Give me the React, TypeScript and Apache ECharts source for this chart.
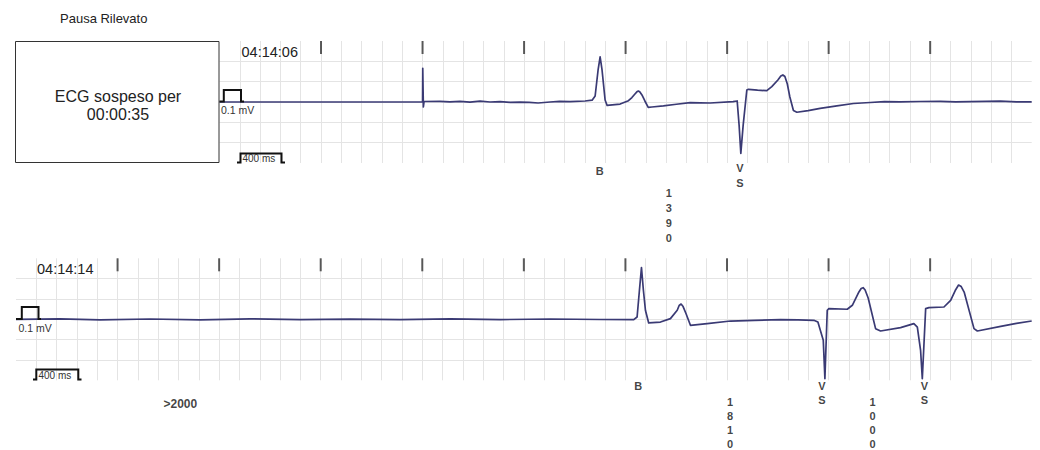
import React, { useEffect, useRef } from 'react';
import * as echarts from 'echarts';

const FONT = '"Liberation Sans", Arial, Helvetica, sans-serif';

// time in seconds, amplitude in mV (0.2 s and 0.2 mV per grid cell)
const TOP_TRACE: [number, number][] = [
  [0, 0], [2.0, 0], [2.002, 0.332], [2.008, -0.049], [2.015, 0.005],
  [2.172, 0.007], [2.27, 0.001], [2.369, 0.006], [2.467, -0.001], [2.567, 0.008],
  [2.664, 0.0], [2.764, 0.004], [2.861, -0.003], [2.961, -0.002], [3.05, -0.004],
  [3.138, -0.01], [3.256, 0], [3.35, 0.006], [3.453, 0.003], [3.601, 0.01], [3.67, 0.018],
  [3.7, 0.059], [3.729, 0.315], [3.749, 0.443], [3.768, 0.315], [3.798, 0.02],
  [3.818, -0.034], [3.946, -0.02], [4.028, 0.013], [4.062, 0.044], [4.092, 0.079],
  [4.111, 0.1], [4.126, 0.108], [4.141, 0.098], [4.161, 0.069], [4.19, 0.01],
  [4.223, -0.052], [4.259, -0.049], [4.372, -0.039], [4.5, -0.022], [4.636, -0.007],
  [4.833, -0.01], [5.059, 0.003], [5.099, 0.01], [5.118, -0.227], [5.135, -0.505],
  [5.158, -0.227], [5.194, 0.118], [5.21, 0.125], [5.3, 0.116], [5.391, 0.111],
  [5.44, 0.151], [5.5, 0.216], [5.529, 0.256], [5.549, 0.266], [5.569, 0.251],
  [5.593, 0.177], [5.618, 0.049], [5.653, -0.084], [5.687, -0.101], [5.798, -0.084],
  [5.916, -0.062], [6.081, -0.039], [6.244, -0.015], [6.409, -0.005], [6.55, 0.003],
  [6.704, 0.002], [6.9, 0.005], [7.099, 0.007], [7.25, 0.002], [7.394, 0.004],
  [7.55, 0.006], [7.69, 0.008], [7.85, 0.001], [8.0, 0.002],
];

const BOTTOM_TRACE: [number, number][] = [
  [0, 0], [0.433, 0.005], [0.828, -0.005], [1.32, 0.003], [1.813, -0.005],
  [2.305, 0.005], [2.798, -0.003], [3.291, 0.002], [3.783, -0.004], [4.276, 0.004],
  [4.768, -0.003], [5.261, 0.003], [5.754, -0.002], [6.082, -0.003], [6.115, 0.023],
  [6.138, 0.286], [6.158, 0.509], [6.177, 0.286], [6.197, 0.089], [6.229, -0.036],
  [6.345, -0.027], [6.443, 0.007], [6.51, 0.089], [6.529, 0.136], [6.548, 0.15],
  [6.568, 0.125], [6.598, 0.052], [6.64, -0.059], [6.805, -0.042], [7.034, -0.017],
  [7.27, -0.01], [7.527, -0.003], [7.7, -0.006], [7.855, -0.01], [7.895, -0.027],
  [7.948, -0.207], [7.964, -0.584], [7.987, 0.089], [8.003, 0.105], [8.184, 0.099],
  [8.234, 0.138], [8.299, 0.269], [8.321, 0.303], [8.34, 0.311], [8.36, 0.288],
  [8.39, 0.209], [8.463, -0.092], [8.512, -0.115], [8.709, -0.082], [8.84, -0.042],
  [8.874, -0.076], [8.906, -0.305], [8.923, -0.584], [8.956, 0.105], [8.988, 0.115],
  [9.136, 0.121], [9.202, 0.187], [9.247, 0.283], [9.28, 0.337], [9.306, 0.322],
  [9.335, 0.268], [9.432, -0.092], [9.465, -0.115], [9.695, -0.069], [9.85, -0.04],
  [10.0, -0.017],
];

const TOP_SECOND_MARKS = [1, 2, 3, 4, 5, 6, 7];
const BOTTOM_SECOND_MARKS = [1, 2, 3, 4, 5, 6, 7, 8, 9];

// [time, amplitude, text]
const TOP_ANNOTATIONS: [number, number, string][] = [
  [3.744, -0.676, 'B'],
  [5.126, -0.726, 'V\nS'],
  [4.426, -1.117, '1\n3\n9\n0'],
];
const BOTTOM_ANNOTATIONS: [number, number, string][] = [
  [6.125, -0.659, 'B'],
  [7.934, -0.722, 'V\nS'],
  [8.945, -0.722, 'V\nS'],
  [7.031, -1.02, '1\n8\n1\n0'],
  [8.432, -1.02, '1\n0\n0\n0'],
];
const BOTTOM_PAUSE_NOTE: [number, number, string][] = [[1.618, -0.835, '>2000']];

const TITLE = 'Pausa Rilevato';
const TOP_TIME = '04:14:06';
const BOTTOM_TIME = '04:14:14';
const SUSPENDED_LINES = ['ECG sospeso per', '00:00:35'];
const CAL_LABEL = '0.1 mV';
const SPEED_LABEL = '400 ms';

const GRID_COLOR = '#e4e4e4';
const TRACE_COLOR = '#3a3a74';

function xAxisFor(gridIndex: number, max: number) {
  return {
    type: 'value',
    gridIndex,
    min: 0,
    max,
    interval: 0.2,
    axisLine: { show: false },
    axisTick: { show: false },
    axisLabel: { show: false },
    splitLine: { show: true, showMinLine: false, showMaxLine: false, lineStyle: { color: GRID_COLOR, width: 1 } },
  };
}
function yAxisFor(gridIndex: number) {
  return {
    type: 'value',
    gridIndex,
    min: -0.6,
    max: 0.6,
    interval: 0.2,
    axisLine: { show: false },
    axisTick: { show: false },
    axisLabel: { show: false },
    splitLine: { show: true, showMinLine: false, showMaxLine: false, lineStyle: { color: GRID_COLOR, width: 1 } },
  };
}

function traceSeries(idx: number, data: [number, number][]) {
  return {
    type: 'line',
    xAxisIndex: idx,
    yAxisIndex: idx,
    data,
    showSymbol: false,
    symbol: 'none',
    silent: true,
    lineStyle: { color: TRACE_COLOR, width: 1.7, join: 'round' },
    z: 5,
  };
}
function markSeries(idx: number, secs: number[]) {
  return {
    type: 'scatter',
    xAxisIndex: idx,
    yAxisIndex: idx,
    data: secs.map((s) => [s, 0.6]),
    symbol: 'rect',
    symbolSize: [2, 13],
    symbolOffset: [0, 6.5],
    itemStyle: { color: '#333' },
    silent: true,
    clip: false,
    z: 6,
  };
}
function labelSeries(idx: number, items: [number, number, string][], fontSize: number, lineHeight: number) {
  return {
    type: 'scatter',
    xAxisIndex: idx,
    yAxisIndex: idx,
    data: items.map((a) => ({ value: [a[0], a[1]], name: a[2] })),
    symbolSize: 1,
    itemStyle: { color: 'rgba(0,0,0,0)' },
    silent: true,
    clip: false,
    label: {
      show: true,
      position: 'inside',
      formatter: (p: any) => p.name,
      color: '#111',
      fontFamily: FONT,
      fontWeight: 'bold',
      fontSize,
      lineHeight,
      align: 'center',
      verticalAlign: 'middle',
    },
    z: 7,
  };
}

function text(x: number, y: number, t: string, size: number, align = 'left', extra: any = {}) {
  return {
    type: 'text',
    x,
    y,
    silent: true,
    z: 20,
    style: {
      text: t,
      fontFamily: FONT,
      fontSize: size,
      fill: '#222',
      textAlign: align,
      textVerticalAlign: 'middle',
      ...extra,
    },
  };
}
function poly(points: number[][]) {
  return {
    type: 'polyline',
    silent: true,
    z: 20,
    shape: { points },
    style: { stroke: '#111', lineWidth: 2, fill: 'none' },
  };
}

export default function App() {
  const ref = useRef<HTMLDivElement>(null);
  useEffect(() => {
    if (!ref.current) return;
    const chart = echarts.init(ref.current, null, { renderer: 'svg' });
    const option: any = {
      animation: false,
      backgroundColor: '#ffffff',
      grid: [
        { left: 219.5, top: 41, width: 812.2, height: 122, containLabel: false },
        { left: 16, top: 258.3, width: 1015.7, height: 122, containLabel: false },
      ],
      xAxis: [xAxisFor(0, 8), xAxisFor(1, 10)],
      yAxis: [yAxisFor(0), yAxisFor(1)],
      series: [
        traceSeries(0, TOP_TRACE),
        traceSeries(1, BOTTOM_TRACE),
        markSeries(0, TOP_SECOND_MARKS),
        markSeries(1, BOTTOM_SECOND_MARKS),
        labelSeries(0, TOP_ANNOTATIONS, 11, 15),
        labelSeries(1, BOTTOM_ANNOTATIONS, 11, 14),
        labelSeries(1, BOTTOM_PAUSE_NOTE, 12, 14),
      ],
      graphic: [
        text(60, 18.5, TITLE, 13),
        {
          type: 'rect',
          silent: true,
          z: 15,
          shape: { x: 15.5, y: 41.5, width: 203.5, height: 121 },
          style: { fill: '#fff', stroke: '#333', lineWidth: 1 },
        },
        text(118, 96.5, SUSPENDED_LINES[0], 16, 'center'),
        text(118, 114.5, SUSPENDED_LINES[1], 16, 'center'),
        text(241.5, 52, TOP_TIME, 14.5),
        text(37, 268.5, BOTTOM_TIME, 14.5),
        poly([[219.5, 101.5], [223.8, 101.5], [223.8, 90], [241, 90], [241, 101.5], [244, 101.5]]),
        poly([[16, 319], [21.8, 319], [21.8, 307], [38.5, 307], [38.5, 319], [41, 319]]),
        text(221, 110, CAL_LABEL, 10.5, 'left', { fill: '#333' }),
        text(18.5, 327.5, CAL_LABEL, 10.5, 'left', { fill: '#333' }),
        poly([[237, 162.5], [240.5, 162.5], [240.5, 153.5], [281.5, 153.5], [281.5, 162.5], [285, 162.5]]),
        poly([[33, 379.5], [36.3, 379.5], [36.3, 369.5], [78.3, 369.5], [78.3, 379.5], [81.5, 379.5]]),
        text(242.5, 158.5, SPEED_LABEL, 10, 'left', { fill: '#333' }),
        text(38.5, 375, SPEED_LABEL, 10, 'left', { fill: '#333' }),
      ],
    };
    chart.setOption(option);
    return () => chart.dispose();
  }, []);
  return (
    <>
      <style>{'html,body{margin:0;padding:0;background:#fff}'}</style>
      <div ref={ref} style={{ width: 1040, height: 450 }} />
    </>
  );
}
